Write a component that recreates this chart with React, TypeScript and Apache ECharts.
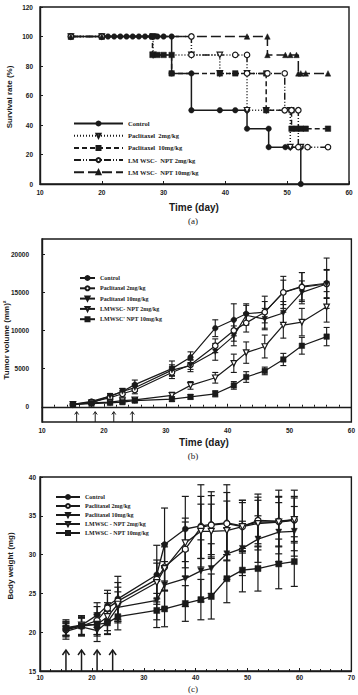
import React, { useEffect, useRef } from 'react';
import * as echarts from 'echarts';

// ---------- Panel (a): survival rate (%) vs time (day) ----------
const survCtrlDays = [15, 20, 21, 22, 23, 24, 25, 26, 27, 28, 29, 30, 31.3, 31.3, 34.5, 34.5, 39.1, 41.6, 43.5, 43.5, 47, 47, 49.7, 50.5, 52.2, 52.2];
const survCtrlRate = [100, 100, 100, 100, 100, 100, 100, 100, 100, 100, 100, 100, 100, 75, 75, 50, 50, 50, 50, 37.5, 37.5, 25, 25, 25, 25, 0];
const survPac2Days = [15, 20, 28.3, 28.3, 34.5, 39.1, 39.1, 43.5, 43.5, 46.6, 50.5, 50.5, 52.2];
const survPac2Rate = [100, 100, 100, 87.5, 87.5, 87.5, 75, 75, 50, 50, 50, 25, 25];
const survPac10Days = [15, 20, 28.2, 28.2, 29, 30, 31.3, 31.3, 39.1, 41.6, 46.6, 46.6, 50.7, 50.7, 51.5, 52.2, 53, 56.6];
const survPac10Rate = [100, 100, 100, 87.5, 87.5, 87.5, 87.5, 75, 75, 75, 75, 50, 50, 37.5, 37.5, 37.5, 37.5, 37.5];
const survLm2Days = [15, 20, 34.5, 34.5, 41.6, 43.5, 43.5, 46.8, 49.6, 49.6, 50.7, 51.8, 51.8, 53.3, 56.6];
const survLm2Rate = [100, 100, 100, 87.5, 87.5, 87.5, 75, 75, 75, 50, 50, 50, 25, 25, 25];
const survLm10Days = [15, 20, 43.5, 46.8, 46.8, 49.7, 50.5, 51.5, 51.8, 52.2, 53, 56.6];
const survLm10Rate = [100, 100, 100, 100, 87.5, 87.5, 87.5, 87.5, 75, 75, 75, 75];
const legendA = ['Control', 'Paclitaxel  2mg/kg', 'Paclitaxel  10mg/kg', 'LM WSC-  NPT 2mg/kg', 'LM WSC-  NPT 10mg/kg'];

// ---------- Panel (b): tumor volume ----------
const tumorDays = [15, 18, 21, 23, 25, 31, 34, 38, 41, 43, 46, 49, 52, 56];
const tumorCtrl = [300, 700, 1400, 2000, 2900, 5000, 6500, 10300, 11400, 12200, 12400, 15000, 15800, 16200];
const tumorCtrlErr = [150, 200, 300, 400, 600, 1000, 700, 1100, 2100, 1300, 2100, 2100, 1800, 3300];
const tumorPac2 = [300, 600, 1200, 1700, 2200, 4500, 5500, 8000, 10000, 11000, 12400, 15000, 15700, 16100];
const tumorPac2Err = [150, 200, 300, 400, 500, 800, 600, 900, 1400, 1200, 1400, 1600, 1900, 1900];
const tumorPac10 = [300, 500, 1400, 2000, 2500, 4800, 5400, 7200, 9300, 12000, 11500, 12300, 15000, 16100];
const tumorPac10Err = [150, 200, 300, 400, 500, 700, 800, 1100, 1300, 1300, 1400, 1500, 1500, 1800];
const tumorLm2 = [300, 500, 600, 800, 900, 1500, 2800, 3800, 5700, 7100, 7900, 10700, 11100, 13100];
const tumorLm2Err = [100, 150, 200, 200, 300, 400, 500, 700, 1200, 1400, 1500, 1700, 1800, 2000];
const tumorLm10 = [300, 400, 500, 600, 800, 1000, 1300, 1700, 2800, 3900, 4700, 6200, 8000, 9200];
const tumorLm10Err = [100, 100, 150, 200, 200, 300, 300, 400, 500, 700, 500, 800, 1100, 1200];
const tumorArrowDays = [15.6, 18.6, 21.6, 24.6];
const tumorTicks = [0, 5000, 10000, 15000, 20000];
const legendB = ['Control', 'Paclitaxel 2mg/kg', 'Paclitaxel 10mg/kg', 'LMWSC- NPT 2mg/kg', "LMWSC' NPT 10mg/kg"];

// ---------- Panel (c): body weight ----------
const weightDays = [15, 18, 21, 23, 25, 32.5, 34, 38, 41, 43, 46, 49, 52, 56, 59];
const weightCtrl = [20.6, 20.9, 22.2, 23.4, 24.3, 27.4, 31.3, 33.3, 33.7, 33.9, 34.1, 33.7, 34.2, 34.2, 34.4];
const weightCtrlErr = [1.0, 1.2, 1.6, 2.0, 2.9, 3.8, 4.7, 4.2, 5.3, 4.2, 4.9, 3.3, 3.6, 4.1, 3.9];
const weightPac2 = [20.3, 20.8, 21.5, 23.1, 24.0, 26.8, 28.4, 30.7, 33.5, 33.8, 34.0, 33.6, 34.4, 34.3, 34.5];
const weightPac2Err = [0.9, 1.3, 1.8, 1.9, 2.4, 2.5, 3.0, 3.5, 4.0, 3.8, 4.0, 3.1, 3.0, 3.2, 2.8];
const weightPac10 = [20.1, 20.7, 20.2, 21.3, 23.2, 24.1, 26.1, 26.9, 27.9, 28.2, 30.1, 30.8, 32.0, 32.9, 33.0];
const weightPac10Err = [1.0, 1.1, 1.4, 1.5, 2.0, 2.5, 3.0, 3.6, 4.0, 3.2, 3.3, 3.5, 3.0, 3.8, 3.2];
const weightLm2 = [20.4, 20.9, 21.0, 22.0, 23.6, 26.4, 28.2, 31.5, 33.0, 33.0, 33.1, 33.6, 34.0, 34.2, 34.5];
const weightLm2Err = [0.9, 1.2, 1.5, 1.8, 2.2, 2.5, 2.8, 3.2, 3.5, 3.5, 3.8, 3.4, 3.0, 3.2, 3.0];
const weightLm10 = [20.5, 20.8, 21.0, 21.2, 22.0, 22.8, 23.0, 23.7, 24.2, 24.6, 26.9, 28.0, 28.2, 28.8, 29.1];
const weightLm10Err = [0.9, 1.1, 1.3, 1.5, 1.7, 2.2, 2.3, 2.3, 2.6, 2.9, 3.1, 2.8, 2.9, 3.2, 3.2];
const weightArrowDays = [15, 18, 21, 24];
const legendC = ['Control', 'Paclitaxel 2mg/kg', 'Paclitaxel 10mg/kg', 'LMWSC - NPT 2mg/kg', 'LMWSC - NPT 10mg/kg'];

const INK = '#1a1a1a';

type Mark = { symbol: string; rotate?: number; open?: boolean };
const MARKS: Mark[] = [
  { symbol: 'circle' },
  { symbol: 'triangle', rotate: 180, open: true },
  { symbol: 'rect' },
  { symbol: 'circle', open: true },
  { symbol: 'triangle' },
];
const MARKS_BC: Mark[] = [
  { symbol: 'circle' },
  { symbol: 'circle', open: true },
  { symbol: 'triangle', rotate: 180 },
  { symbol: 'triangle', rotate: 180, open: true },
  { symbol: 'rect' },
];

const pairs = (xs: number[], ys: number[]) => xs.map((x, i) => [x, ys[i]]);
const errs = (xs: number[], ys: number[], es: number[]) => xs.map((x, i) => [x, ys[i] - es[i], ys[i] + es[i]]);
const strip = (n: string) => n.split('|')[1];

function lineSeries(name: string, data: number[][], idx: number, mark: Mark, size: number, lw: number, dash: any, step?: string) {
  return {
    type: 'line',
    name,
    data,
    xAxisIndex: idx,
    yAxisIndex: idx,
    step: step || false,
    symbol: mark.symbol,
    symbolSize: size,
    symbolRotate: mark.rotate || 0,
    showSymbol: true,
    z: 3,
    lineStyle: { color: INK, width: lw, type: dash },
    itemStyle: { color: mark.open ? '#fff' : INK, borderColor: INK, borderWidth: mark.open ? 1.2 : 0.5 },
    emphasis: { disabled: true },
  };
}

const errRender = (cap: number, lw: number) => (params: any, api: any) => {
  const x = api.value(0);
  const top = api.coord([x, api.value(2)]);
  const bot = api.coord([x, api.value(1)]);
  const style = { stroke: INK, lineWidth: lw };
  return {
    type: 'group',
    children: [
      { type: 'line', shape: { x1: top[0], y1: top[1], x2: bot[0], y2: bot[1] }, style },
      { type: 'line', shape: { x1: top[0] - cap, y1: top[1], x2: top[0] + cap, y2: top[1] }, style },
      { type: 'line', shape: { x1: bot[0] - cap, y1: bot[1], x2: bot[0] + cap, y2: bot[1] }, style },
    ],
  };
};

function errSeries(data: number[][], idx: number, cap: number, lw: number) {
  return {
    type: 'custom',
    xAxisIndex: idx,
    yAxisIndex: idx,
    data,
    encode: { x: 0, y: [1, 2] },
    renderItem: errRender(cap, lw),
    z: 2,
    silent: true,
  };
}

const arrowRender = (head: number, lw: number) => (params: any, api: any) => {
  const p = api.coord([api.value(0), api.value(1)]);
  const bottom = params.coordSys.y + params.coordSys.height;
  const style = { stroke: INK, lineWidth: lw, fill: 'none' };
  return {
    type: 'group',
    children: [
      { type: 'line', shape: { x1: p[0], y1: bottom, x2: p[0], y2: p[1] }, style },
      { type: 'polyline', shape: { points: [[p[0] - head, p[1] + head * 1.4], [p[0], p[1]], [p[0] + head, p[1] + head * 1.4]] }, style },
    ],
  };
};

function arrowSeries(days: number[], top: number, idx: number, head: number, lw: number) {
  return {
    type: 'custom',
    xAxisIndex: idx,
    yAxisIndex: idx,
    data: days.map((d) => [d, top]),
    encode: { x: 0, y: 1 },
    renderItem: arrowRender(head, lw),
    z: 2,
    silent: true,
  };
}

const tickLabel = { fontSize: 6.5, fontWeight: 'bold', color: INK, fontFamily: 'Liberation Sans, Arial, sans-serif', formatter: (v: number) => String(v) };
const axisLine = { show: true, lineStyle: { color: INK, width: 1.4 } };

function xAxis(idx: number, max: number, minor: boolean, margin: number) {
  return {
    type: 'value',
    gridIndex: idx,
    min: 10,
    max,
    interval: 10,
    axisLine,
    axisTick: { show: true, inside: true, length: 3, lineStyle: { color: INK, width: 1 } },
    minorTick: { show: minor, splitNumber: 5, length: 2, lineStyle: { color: INK, width: 1 } },
    axisLabel: { ...tickLabel, margin },
    splitLine: { show: false },
  };
}

export default function App() {
  const ref = useRef<HTMLDivElement>(null);

  useEffect(() => {
    if (!ref.current) return;
    const chart = echarts.init(ref.current, undefined, { renderer: 'svg' });

    const namesA = legendA.map((n) => 'a|' + n);
    const namesB = legendB.map((n) => 'b|' + n);
    const namesC = legendC.map((n) => 'c|' + n);

    const survX = [survCtrlDays, survPac2Days, survPac10Days, survLm2Days, survLm10Days];
    const survY = [survCtrlRate, survPac2Rate, survPac10Rate, survLm2Rate, survLm10Rate];
    const survDash: any[] = ['solid', [1, 2], [5, 3], [7, 2, 1, 2, 1, 2], [10, 4]];

    const tumorY = [tumorCtrl, tumorPac2, tumorPac10, tumorLm2, tumorLm10];
    const tumorE = [tumorCtrlErr, tumorPac2Err, tumorPac10Err, tumorLm2Err, tumorLm10Err];
    const weightY = [weightCtrl, weightPac2, weightPac10, weightLm2, weightLm10];
    const weightE = [weightCtrlErr, weightPac2Err, weightPac10Err, weightLm2Err, weightLm10Err];

    const series: any[] = [];
    survX.forEach((xs, i) => {
      series.push(lineSeries(namesA[i], pairs(xs, survY[i]), 0, MARKS[i], 5.5, 1.5, survDash[i], 'end'));
    });
    tumorY.forEach((ys, i) => {
      series.push(errSeries(errs(tumorDays, ys, tumorE[i]), 1, 3, 1.1));
      series.push(lineSeries(namesB[i], pairs(tumorDays, ys), 1, MARKS_BC[i], 5.5, 1.2, 'solid'));
    });
    series.push(arrowSeries(tumorArrowDays, -650, 1, 2, 1));
    weightY.forEach((ys, i) => {
      series.push(errSeries(errs(weightDays, ys, weightE[i]), 2, 3.5, 1.2));
      series.push(lineSeries(namesC[i], pairs(weightDays, ys), 2, MARKS_BC[i], 6, 1.3, 'solid'));
    });
    series.push(arrowSeries(weightArrowDays, 17.7, 2, 3.5, 1.5));

    const legendText = { fontSize: 6.5, fontWeight: 'bold', color: INK, fontFamily: 'Liberation Serif, serif' };
    const gridBox = { show: true, borderColor: INK, borderWidth: 1.4, backgroundColor: 'transparent' };

    const label = (text: string, x: number, y: number, size: number, rot = 0, bold = true, family = 'Liberation Sans, Arial, sans-serif') => ({
      type: 'text',
      x,
      y,
      rotation: rot,
      style: {
        text,
        fontSize: size,
        fontWeight: bold ? 'bold' : 'normal',
        fontFamily: family,
        fill: INK,
        textAlign: 'center',
        textVerticalAlign: 'middle',
        align: 'center',
        verticalAlign: 'middle',
      },
    });

    chart.setOption({
      animation: false,
      backgroundColor: '#fff',
      grid: [
        { left: 40, top: 7, width: 309, height: 177, ...gridBox },
        { left: 42, top: 239, width: 310, height: 183, ...gridBox },
        { left: 40, top: 477, width: 312, height: 194, ...gridBox },
      ],
      xAxis: [xAxis(0, 60, false, 5), xAxis(1, 60, true, 5), xAxis(2, 70, true, 3)],
      yAxis: [
        {
          type: 'value', gridIndex: 0, min: 0, max: 120, interval: 20, axisLine,
          axisTick: { show: true, inside: true, length: 3, lineStyle: { color: INK } },
          axisLabel: { ...tickLabel, margin: 7 }, splitLine: { show: false },
        },
        {
          type: 'value', gridIndex: 1, min: -2000, max: 22000, axisLine,
          axisTick: { show: true, inside: true, length: 3, lineStyle: { color: INK }, customValues: tumorTicks },
          axisLabel: { ...tickLabel, margin: 13, customValues: tumorTicks }, splitLine: { show: false },
        },
        {
          type: 'value', gridIndex: 2, min: 15, max: 40, interval: 5, axisLine,
          axisTick: { show: true, inside: true, length: 3, lineStyle: { color: INK } },
          axisLabel: { ...tickLabel, margin: 4 }, splitLine: { show: false },
        },
      ],
      legend: [
        {
          data: namesA, formatter: strip, orient: 'vertical', left: 68, top: 115,
          itemWidth: 49, itemHeight: 5, itemGap: 5.2, textStyle: { ...legendText, lineHeight: 5 },
          selectedMode: false,
        },
        {
          data: namesB, formatter: strip, orient: 'vertical', left: 74, top: 270,
          itemWidth: 15, itemHeight: 5, itemGap: 4.3, textStyle: { ...legendText, fontSize: 6, lineHeight: 5 },
          selectedMode: false,
        },
        {
          data: namesC, formatter: strip, orient: 'vertical', left: 50, top: 489,
          itemWidth: 24, itemHeight: 5, itemGap: 3, textStyle: { ...legendText, fontSize: 6, lineHeight: 5 },
          selectedMode: false,
        },
      ],
      graphic: [
        label('Survival rate (%)', 9, 97, 8, Math.PI / 2),
        label('Time (day)', 194, 207, 10),
        label('(a)', 193, 221, 9, 0, false, 'Liberation Serif, serif'),
        label('Tumor volume (mm)\u00b2', 6, 340, 8, Math.PI / 2),
        label('Time (day)', 204, 442, 10),
        label('(b)', 193, 456, 9, 0, false, 'Liberation Serif, serif'),
        label('Body weight (mg)', 10, 566, 8, Math.PI / 2),
        label('(c)', 193, 689, 9, 0, false, 'Liberation Serif, serif'),
      ],
      series,
    });

    return () => chart.dispose();
  }, []);

  return (
    <div
      ref={ref}
      style={{ position: 'fixed', left: 0, top: 0, width: 358, height: 695, background: '#fff' }}
    />
  );
}
